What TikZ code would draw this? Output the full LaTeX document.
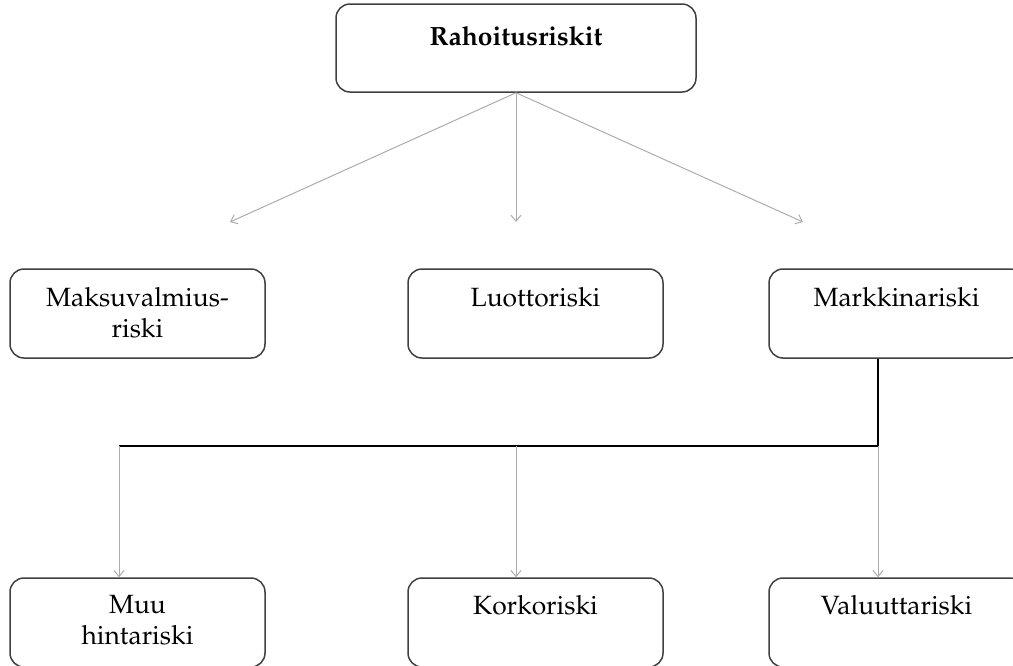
\documentclass[tikz,border=0pt]{standalone}
\usepackage[T1]{fontenc}
\usepackage{mathpazo}
\usetikzlibrary{arrows.meta,positioning}
\tikzset{every picture/.style={line width=0.5pt}}
\tikzset{
  laatikko/.style={draw=black!75, line width=0.75pt, rounded corners=7pt,
    minimum width=127.5pt, minimum height=44.5pt, inner sep=0pt},
  teksti/.style={font=\fontsize{13.2}{15.5}\selectfont, align=center, inner sep=0pt},
  nuoli/.style={draw=gray!65, line width=0.5pt, -{Straight Barb[length=3pt,width=5pt]}},
  haara/.style={draw=black, line width=0.9pt}
}

\begin{document}
\begin{tikzpicture}[x=0.5pt,y=-0.5pt]
    \useasboundingbox (0,0) rectangle (1013,665);
    \clip (0,0) rectangle (1013,665);

    % ylin laatikko
    \node[laatikko, minimum width=180pt, minimum height=44pt] (rahoitus) at (516,48) {};
    \node[teksti, font=\fontsize{13.2}{15.5}\selectfont\bfseries, below=11.3pt of rahoitus.north] (rahoitusT) {Rahoitusriskit};

    % toinen rivi
    \node[laatikko] (maksu) at (137.5,313.5) {};
    \node[teksti, below=9.3pt of maksu.north] (maksuT) {Maksuvalmius-\\riski};
    \node[laatikko] (luotto) at (535.5,313.5) {};
    \node[teksti, below=9.3pt of luotto.north] (luottoT) {Luottoriski};
    \node[laatikko] (markkina) at (896.5,313.5) {};
    \node[teksti, below=9.3pt of markkina.north] (markkinaT) {Markkinariski};

    % kolmas rivi
    \node[laatikko] (muu) at (137.5,622.5) {};
    \node[teksti, below=8.8pt of muu.north] (muuT) {Muu\\hintariski};
    \node[laatikko] (korko) at (535.5,622.5) {};
    \node[teksti, below=8.8pt of korko.north] (korkoT) {Korkoriski};
    \node[laatikko] (valuutta) at (896.5,622.5) {};
    \node[teksti, below=8.8pt of valuutta.north] (valuuttaT) {Valuuttariski};

    % nuolet ylhäältä
    \coordinate (k1) at (230,222);
    \coordinate (k2) at (516,222);
    \coordinate (k3) at (803,222);
    \draw[nuoli] (rahoitus.south) -- (k1);
    \draw[nuoli] (rahoitus.south) -- (k2);
    \draw[nuoli] (rahoitus.south) -- (k3);

    % markkinariskin haarat
    \coordinate (h1) at (119,446);
    \coordinate (h2) at (516,446);
    \coordinate (h3) at (878,446);
    \draw[haara] (markkina.south -| h3) -- (h3) -- (h1);
    \draw[nuoli] (h1) -- (h1 |- muu.north);
    \draw[nuoli] (h2) -- (h2 |- korko.north);
    \draw[nuoli] (h3) -- (h3 |- valuutta.north);
\end{tikzpicture}
\end{document}
